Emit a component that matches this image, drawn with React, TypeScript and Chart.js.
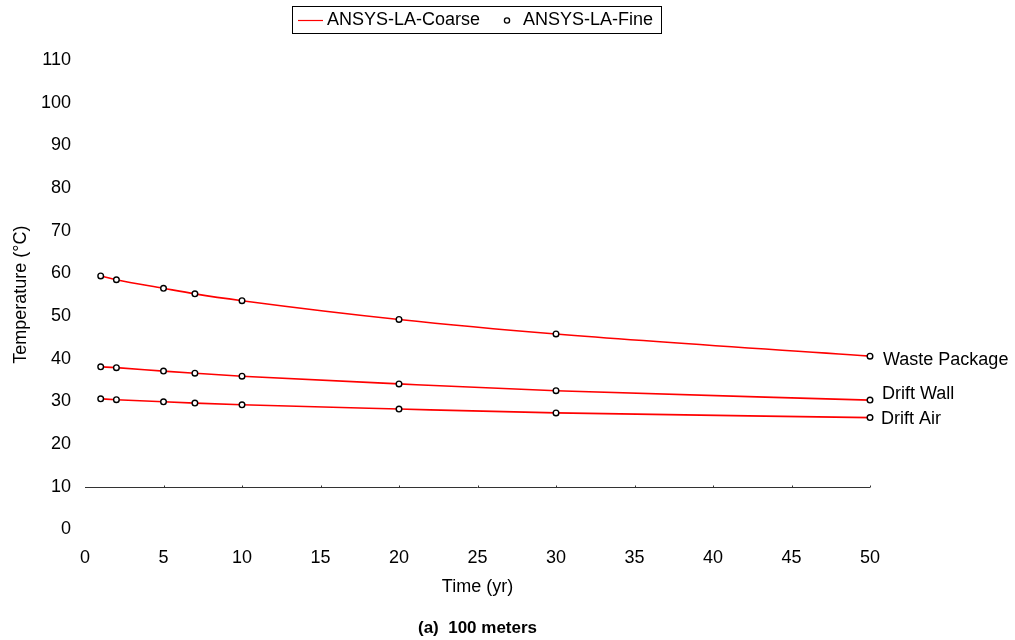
import React, { useEffect, useRef } from "react";
import { Chart, registerables } from "chart.js";

Chart.register(...registerables);

const years = [1, 2, 5, 7, 10, 20, 30, 50];
const wastePackage = [59.4, 58.5, 56.5, 55.2, 53.6, 49.2, 45.8, 40.6];
const driftWall = [38.1, 37.9, 37.1, 36.6, 35.9, 34.1, 32.5, 30.3];
const driftAir = [30.6, 30.4, 29.9, 29.6, 29.2, 28.2, 27.3, 26.2];

const seriesNames = ["Waste Package", "Drift Wall", "Drift Air"];
const legendNames = ["ANSYS-LA-Coarse", "ANSYS-LA-Fine"];
const xTicks = { min: 0, max: 50, step: 5 };
const yTicks = { min: 0, max: 110, step: 10 };
const axisLineValue = 10;
const caption = "(a)  100 meters";

const FONT = "'Liberation Sans', Arial, sans-serif";

const toXY = (vals: number[]) => vals.map((v, i) => ({ x: years[i], y: v }));

const overlay = {
  id: "overlay",
  afterDraw(chart: any) {
    const { ctx, scales } = chart;
    const xs = scales.x;
    const ys = scales.y;
    ctx.save();
    // axis line at y=10
    const ay = Math.round(ys.getPixelForValue(axisLineValue)) + 0.5;
    ctx.strokeStyle = "#333";
    ctx.lineWidth = 1;
    ctx.beginPath();
    ctx.moveTo(xs.getPixelForValue(xTicks.min), ay);
    ctx.lineTo(xs.getPixelForValue(xTicks.max), ay);
    for (let v = xTicks.min + xTicks.step; v <= xTicks.max; v += xTicks.step) {
      const px = Math.round(xs.getPixelForValue(v)) + 0.5;
      ctx.moveTo(px, ay);
      ctx.lineTo(px, ay - 2);
    }
    ctx.stroke();

    // series labels
    ctx.fillStyle = "#000";
    ctx.font = "18px " + FONT;
    ctx.textBaseline = "middle";
    ctx.textAlign = "left";
    const lastX = xs.getPixelForValue(years[years.length - 1]);
    const lasts = [wastePackage, driftWall, driftAir].map((a) => a[a.length - 1]);
    const offsets = [4, -6, 1];
    const dx = [13, 12, 11];
    seriesNames.forEach((name, i) => {
      ctx.fillText(name, lastX + dx[i], ys.getPixelForValue(lasts[i]) + offsets[i]);
    });

    // legend
    ctx.strokeStyle = "#000";
    ctx.lineWidth = 1;
    ctx.strokeRect(292.5, 6.5, 369, 27);
    ctx.strokeStyle = "#ff0000";
    ctx.lineWidth = 1.2;
    ctx.beginPath();
    ctx.moveTo(298, 20.5);
    ctx.lineTo(323, 20.5);
    ctx.stroke();
    ctx.fillStyle = "#000";
    ctx.fillText(legendNames[0], 327, 20.5);
    ctx.strokeStyle = "#000";
    ctx.lineWidth = 1.3;
    ctx.beginPath();
    ctx.arc(507, 20.5, 2.6, 0, Math.PI * 2);
    ctx.stroke();
    ctx.fillText(legendNames[1], 523, 20.5);

    // caption
    ctx.font = "bold 17px " + FONT;
    ctx.textAlign = "center";
    ctx.fillText(caption, (chart.chartArea.left + chart.chartArea.right) / 2, 628);
    ctx.restore();
  },
};

export default function App() {
  const ref = useRef<HTMLCanvasElement>(null);
  useEffect(() => {
    if (!ref.current) return;
    const coarse = (vals: number[]) => ({
      data: toXY(vals),
      borderColor: "#ff0000",
      borderWidth: 1.6,
      pointRadius: 0,
      tension: 0.4,
      cubicInterpolationMode: "monotone" as const,
      order: 1,
    });
    const fine = (vals: number[]) => ({
      data: toXY(vals),
      showLine: false,
      clip: false,
      pointRadius: 2.8,
      pointBorderWidth: 1.4,
      pointBorderColor: "#000",
      pointBackgroundColor: "#fff",
      borderColor: "#000",
      order: 0,
    });
    const chart = new Chart(ref.current, {
      type: "line",
      data: {
        datasets: [
          coarse(wastePackage),
          coarse(driftWall),
          coarse(driftAir),
          fine(wastePackage),
          fine(driftWall),
          fine(driftAir),
        ] as any,
      },
      options: {
        animation: false,
        responsive: false,
        layout: { padding: { left: 0, top: 60, right: 145, bottom: 40.6 } },
        plugins: { legend: { display: false }, tooltip: { enabled: false }, title: { display: false } },
        scales: {
          x: {
            type: "linear",
            min: xTicks.min,
            max: xTicks.max,
            grid: { display: false, drawTicks: false },
            border: { display: false },
            ticks: { stepSize: xTicks.step, color: "#000", font: { size: 18, family: FONT }, padding: 18, maxRotation: 0 },
            title: { display: true, text: "Time (yr)", color: "#000", font: { size: 18, family: FONT }, padding: { top: 0, bottom: 1.6 } },
            afterFit: (s: any) => { s.height = 70; },
          },
          y: {
            min: yTicks.min,
            max: yTicks.max,
            grid: { display: false, drawTicks: false },
            border: { display: false },
            ticks: { stepSize: yTicks.step, color: "#000", font: { size: 18, family: FONT }, padding: 14 },
            title: { display: true, text: "Temperature (°C)", color: "#000", font: { size: 18, family: FONT }, padding: { top: 10.7, bottom: 0 } },
            afterFit: (s: any) => { s.width = 85; },
          },
        },
      },
      plugins: [overlay],
    });
    return () => chart.destroy();
  }, []);
  return (
    <div style={{ position: "fixed", left: 0, top: 0, width: 1015, height: 640, background: "#fff" }}>
      <canvas ref={ref} width={1015} height={640} />
    </div>
  );
}
